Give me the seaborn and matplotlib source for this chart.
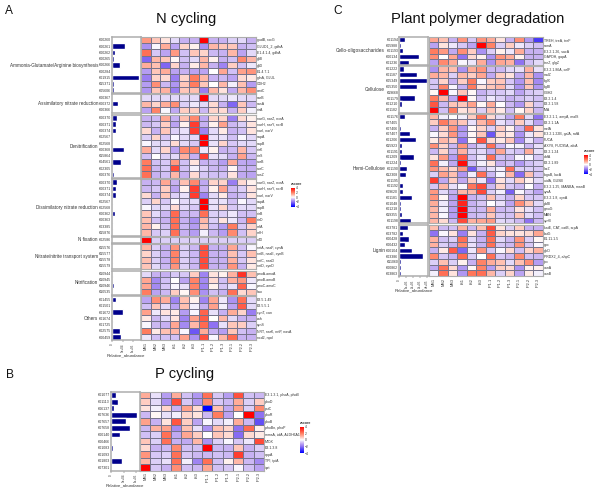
import pandas as pd
import matplotlib
matplotlib.use("Agg")
import matplotlib.pyplot as plt
import seaborn as sns
from matplotlib.cm import ScalarMappable
from matplotlib.colors import LinearSegmentedColormap, Normalize

samples = ["MS1", "MS2", "MS3", "IS1", "IS2", "IS3", "IP1.1", "IP1.2", "IP1.3", "IP2.1", "IP2.2", "IP2.3"]

# panel A
n_groups = ["Ammonia-Glutamate/Arginine biosynthesis", "Assimilatory nitrate reduction", "Denitrification",
            "Dissimilatory nitrate reduction", "N fixation", "Nitrate/nitrite transport system", "Nitrification", "Others"]
n_sizes = [9, 3, 10, 9, 1, 4, 4, 7]
n_kos = ["K00260", "K00261", "K00262", "K00265", "K00266", "K00284", "K01915", "K15371", "K05606",
         "K00367", "K00372", "K00366",
         "K00370", "K00371", "K00374", "K02567", "K02568", "K00368", "K15864", "K04561", "K02305", "K00376",
         "K00370", "K00371", "K00374", "K02567", "K02568", "K00362", "K00363", "K03385", "K15876",
         "K02586",
         "K15576", "K15577", "K15578", "K15579",
         "K10944", "K10945", "K10946", "K10535",
         "K01455", "K01501", "K01672", "K01674", "K01725", "K02575", "K00459"]
n_genes = ["gudB, rocG", "GLUD1_2, gdhA", "E1.4.1.4, gdhA", "gltB", "gltD", "E1.4.7.1", "glnA, GLUL", "GDH2", "amtC",
           "narB", "nasA", "nirA",
           "narG, narZ, nxrA", "narH, narY, nxrB", "narI, narV", "napA", "napB", "nirK", "nirS", "norB", "norC", "nosZ",
           "narG, narZ, nxrA", "narH, narY, nxrB", "narI, narV", "napA", "napB", "nirB", "nirD", "nrfA", "nrfH",
           "nifD",
           "nrtA, nasF, cynA", "nrtB, nasE, cynB", "nrtC, nasD", "nrtD, cynD",
           "pmoA-amoA", "pmoB-amoB", "pmoC-amoC", "hao",
           "E3.5.1.49", "E3.5.5.1", "cynT, can", "cah", "cynS", "NRT, narK, nrtP, nasA", "ncd2, npd"]
n_abund = [2000, 63000, 16000, 8000, 38000, 3000, 129000, 8000, 11000,
           2000, 27000, 6000,
           25000, 21000, 19000, 5000, 2000, 57000, 3000, 40000, 5000, 11000,
           25000, 21000, 19000, 5000, 2000, 13000, 3000, 3000, 2000,
           2000,
           6000, 6000, 5000, 3000,
           3000, 3000, 8000, 5000,
           21000, 3000, 54000, 3000, 3000, 37000, 44000]
n_z = [
    [1.5, 0.8, 0.4, -0.5, -1, -1, 4, -1, -1, -0.6, -0.5, -1],
    [-1.5, -0.1, 1.2, -1.2, 0.6, 0.2, -1.5, 1, 0.8, 0.8, -1, -0.8],
    [2.2, -0.7, -1.2, 1.5, -0.8, 0.8, 0.6, -0.9, -1, 1, -1.2, -0.5],
    [-2.2, 1, 0.8, 0.1, -0.8, -0.5, 1, 0.2, -1, -0.8, 1.8, 1],
    [1.2, 0.9, -2.2, 0.6, -1, 0.3, 1, -1, -1.7, 0.7, -0.8, -0.3],
    [-1.3, 0.8, 1.2, -1.2, -1, -1.2, -1.2, 0, 1.3, -0.8, 1.4, 1.6],
    [-1.8, 0.6, 0.5, -1.8, 0.6, 2, 1, -1, -0.9, -1.2, 0.5, 0.3],
    [-1.3, 1.7, -0.9, -1.4, 0.8, 2, 0.8, 0, 1, -0.2, 0.9, -1.3],
    [-1.4, 0.8, 1.1, -1.8, 0.8, 0.9, -1.8, 1, 0.4, -1.1, 1, 1.7],
    [-0.5, -0.5, -0.5, -0.5, -0.5, -0.5, 4, -0.5, -0.5, -0.3, -0.5, -0.5],
    [1, 0.6, 1.2, 1.7, -0.6, -0.3, -0.5, 0.5, -1, -2.2, 0.8, -0.9],
    [-1.2, 1.9, -0.1, -1.1, 0.7, 0.7, -0.9, 0.6, 0.5, -1, 0.7, -0.2],
    [-1, -0.9, 1.3, -1, 0.9, 1.8, -1.1, 0.6, 0.6, -1.8, 0.5, 0.2],
    [-0.9, -0.7, 0.7, -1.2, 0.2, 3, -1, 0.2, 1.4, -0.9, -0.6, 0.4],
    [0.5, -1, 0.8, -0.6, -0.4, 3, -1.7, -0.5, 0.3, -1, -0.8, 0.4],
    [-0.6, 0.6, -0.7, -0.1, -0.5, -0.5, 4, -0.4, -0.4, -0.8, -0.1, -0.5],
    [-0.1, -0.5, -0.5, 0.5, -0.5, -0.7, 4, -0.4, 0.6, -0.7, -0.5, -0.5],
    [1.2, -0.5, 0.6, -1.2, 1.8, 1.9, -0.3, 0.2, -1, -0.9, 1, -0.7],
    [-0.8, 0, -0.6, -0.5, 1.1, -1, 3, -0.4, -0.5, -1, 1.4, -0.9],
    [2, -0.8, -0.7, 1.5, -0.8, 0.4, -1, -0.9, -1.3, 1.2, -1.1, -1.2],
    [2.2, -0.9, -0.7, 2.8, -0.8, -0.2, -0.6, -0.9, -1, 0.1, -1, -1],
    [2.2, -1, -0.8, 1, -1, 0.5, -0.7, -0.8, -0.8, 0.4, -1.1, -1.2],
    [-1, -0.9, 1.3, -1, 0.9, 1.8, -1.1, 0.6, 0.6, -1.8, 0.5, 0.2],
    [-0.9, -0.7, 0.7, -1.2, 0.2, 3, -1, 0.2, 1.4, -0.9, -0.6, 0.4],
    [0.5, -1, 0.8, -0.6, -0.4, 3, -1.7, -0.5, 0.3, -1, -0.8, 0.4],
    [-0.6, 0.6, -0.7, -0.1, -0.5, -0.5, 4, -0.4, -0.4, -0.8, -0.1, -0.5],
    [-0.1, -0.5, -0.5, 0.5, -0.5, -0.7, 4, -0.4, 0.6, -0.7, -0.5, -0.5],
    [0.8, -0.5, -0.9, 2.3, -0.9, -0.9, 2.2, -0.6, -0.6, -0.3, -0.8, -0.8],
    [0.9, -0.8, -1, 2.2, -1, -1.5, 1, -0.6, 0.4, -0.3, -0.9, 2],
    [1, 0.2, -0.8, 2.2, -0.9, -1.3, 0.8, -0.8, -1.3, 2, -0.7, 0.6],
    [1, -0.7, -0.6, 2.2, -1, -1.3, -0.2, -0.9, -1.3, 1.8, -0.8, 0.6],
    [4, -0.6, -0.6, -0.6, -0.6, -0.6, -0.6, -0.6, -0.6, -0.6, -0.6, -0.6],
    [1, -0.6, -1, 1.6, -0.6, -0.9, 2.7, -1, -1, 1.3, -0.8, -0.1],
    [0.6, -0.6, -1, 1.9, -0.6, -0.9, 2.7, -1, -1, 0.9, -0.7, 0.9],
    [0.9, -0.6, -1, 1.9, -0.6, -0.9, 2.8, -1, -1, 1.1, -0.7, 0.4],
    [0.8, -0.5, -0.9, 1.6, -0.6, -0.9, 2.8, -1, -1, 1.6, -1, 0.3],
    [-0.5, -1, -1, -0.7, -0.7, 0.7, -1.7, 0.4, 0.2, 1.1, 3.2, 0.9],
    [1.3, -1.6, -0.8, 0, -1.2, 1.9, -1.6, 0.5, -0.8, 1.1, 1.5, -0.3],
    [1.3, -1.6, -0.7, -0.1, -0.4, 1.9, -1.7, 0.2, -0.7, -0.4, 2.4, -0.1],
    [2, -1.2, -0.9, 0.7, 0.1, 1.7, -1.5, -0.8, -1, 2.2, 0.5, 0.8],
    [-1.2, 1.7, 1.2, -1.7, 0.9, 0.2, -1.7, 1.3, -0.3, -1.5, 2.2, -0.5],
    [-0.8, 0.8, -0.5, -1.2, 0.9, -0.2, -1, 1.4, -0.2, -1.2, 2.5, -0.5],
    [1.4, -0.3, 0.4, 0.3, -1.3, -0.1, 2.4, -0.4, -1, 1.2, 0.6, -1.8],
    [0.3, -0.9, -0.5, 0.4, -1.7, 1.4, 2.5, 0, 1, -0.5, -1, -1],
    [-0.1, -0.9, -1, 1.3, -1.6, 1, 2.3, -2, -0.4, 0.8, 0.7, -0.6],
    [2, 0.3, 0.9, 1, -0.1, -2.5, 1.2, -1, -1.3, 0.8, -0.8, -1],
    [-0.3, -0.8, -0.8, -0.8, 1.4, -1.5, 2.7, -0.1, 1, 2.3, -1, -1],
]

# panel B
p_kos = ["K01077", "K01113", "K06137", "K07636", "K07657", "K07658", "K00140", "K00466", "K01083", "K01093", "K01803", "K07301"]
p_genes = ["E3.1.3.1, phoA, phoB", "phoD", "pstC", "phoR", "phoB", "phoBn, phoP", "mmsA, iolA, ALDH6A1", "MIOX",
           "E3.1.3.8", "appA", "TPI, tpiA", "ipct"]
p_abund = [20000, 26000, 13000, 105000, 60000, 74000, 37000, 5000, 7000, 1000, 44000, 2000]
p_z = [
    [1.2, -0.4, -1.3, 1.2, -0.8, -1.4, 2.2, -0.7, -1.3, 2.7, -0.8, -0.9],
    [0.7, -0.5, -1.5, 2.8, -0.7, -1.4, 1.8, -0.7, -0.9, 1.2, -0.6, 0.7],
    [0.4, -0.2, 0.6, -1, 1.4, 0.5, -4, 0.9, -1.1, 1.4, -0.6, 1.8],
    [-0.9, 0.1, -0.4, -0.2, 0.6, 0.4, -0.9, 2, -1.2, 0, 4, -2],
    [1.4, -1, 0.4, 2.6, 0.7, -1.2, -0.1, -0.5, -0.2, 1.2, -0.9, -2.6],
    [-0.9, 1.1, 1.4, -1.6, 0.9, -0.4, -1.5, 0.9, 0.6, -2, 2.3, 0.2],
    [-0.8, -0.6, 2.2, -1.1, 1.3, 0.7, 0, 0.8, 0.5, -2.1, 0.5, 0.3],
    [0.8, -0.6, 2.2, -1, -1.1, 1, -1.5, -0.6, -0.1, -0.7, -0.3, 2.8],
    [0.5, -1, -0.9, 1.8, -0.8, -0.8, 4, -0.9, -1, 0.8, -1, -0.6],
    [1.6, -0.7, -0.6, 2.2, -0.7, -0.9, -0.9, -0.8, -0.9, 3, -1, -0.8],
    [1, -0.6, -0.4, 2.2, -0.2, -1.7, 2.2, -0.8, 0.2, 1, -0.9, -1.6],
    [4, -0.7, -1, 1.7, -0.8, -0.9, 1.3, -0.8, -0.7, -0.1, -0.8, -1.2],
]

# panel C
c_groups = ["Cello-oligosaccharides", "Cellulose", "Hemi-Cellulose", "Lignin"]
c_sizes = [5, 8, 19, 9]
c_kos = ["K01194", "K05988", "K01193", "K00134", "K01236",
         "K01222", "K01187", "K05349", "K05350", "K19668", "K01179", "K01210", "K01182",
         "K01176", "K07405", "K07406", "K07407", "K01206", "K15923", "K01191", "K01209", "K01224", "K01190",
         "K12308", "K01195", "K01192", "K09620", "K01181", "K01048", "K01218", "K19355", "K01198",
         "K03781", "K03782", "K00428", "K00432", "K00104", "K03386", "K11060", "K00862", "K03863"]
c_genes = ["TREH, treA, treF", "ramA", "E3.2.1.26, sacA", "GAPDH, gapA", "treZ, glgZ",
           "E3.2.1.86A, celF", "malZ", "bglX", "bglB", "CBH2", "E3.2.1.4", "E3.2.1.58", "IMA",
           "E3.2.1.1, amyA, malS", "E3.2.1.1A", "melA", "E3.2.1.22B, galA, rafA", "FUCA", "AXY8, FUC95A, afcA", "E3.2.1.24",
           "abfA", "E3.2.1.89", "lacZ", "bgaB, lacA", "uidA, GUSB", "E3.2.1.25, MANBA, manB", "xysA", "E3.2.1.8, xynA",
           "pldB", "gmuG", "MAN", "xynB",
           "katE, CAT, catB, srpA", "katG", "E1.11.1.5", "gpx", "glcD", "PRDX2_4, ahpC", "tpx", "vanA", "vanB"]
c_abund = [85000, 25000, 50000, 285000, 145000,
           60000, 255000, 395000, 260000, 15000, 225000, 35000, 10000,
           75000, 15000, 30000, 155000, 245000, 35000, 40000, 210000, 22000, 110000,
           100000, 10000, 55000, 50000, 175000, 25000, 30000, 35000, 165000,
           130000, 55000, 145000, 75000, 185000, 335000, 30000, 20000, 25000]
c_z = [
    [1.3, 0.9, -1, 1.6, -0.7, 1.6, 1.2, 0.4, -1, 1.7, -1.4, -3],
    [-1.2, 0.4, -0.3, -0.7, -1.2, 4, 1.9, -0.6, 0.7, -0.3, -0.6, -0.8],
    [2, 1.5, -1.1, 1.7, 0.7, -1.5, -0.6, 0.2, -0.3, 1.2, -1, -1],
    [1.7, 0, 1.3, -2, 0.5, 0.2, -1.5, 1.6, 1.2, 0.2, -1, -1],
    [-1.2, 1.8, 1.2, -0.1, -0.3, 1.2, -1.5, 1.3, 1.1, -2, -0.8, -0.5],
    [-1.5, 1, 0.9, -1.5, 1.2, 1.6, -0.9, -0.9, -0.5, -0.4, 1.1, -0.4],
    [1.2, 1, -0.6, 1, 0.7, 1.3, -1.1, 0.7, 0.4, -1.1, 1, -1.5],
    [-0.7, 0.6, -1, 0.7, 2, -0.1, 0.7, 0.8, -0.7, -1.4, 0.9, -1.6],
    [-0.7, 1.9, -0.1, -1, 2, 0.4, 0.8, 1, -0.5, -1.5, 0.8, -1.4],
    [0.1, 4, -0.1, 0.8, 0.1, -1, -0.7, -0.7, -0.5, -1.2, -0.7, -0.6],
    [2, 1, -1.2, 4, 0.1, -0.8, -0.3, -0.6, -1, -0.8, -0.6, -0.8],
    [2.6, -0.9, 0.8, 0.8, 1.4, 0.1, 1.2, 0, -0.9, -1.4, 0.6, -0.7],
    [4, -0.8, 2, 0.4, 0.6, -0.6, 0.8, 0.3, -0.8, 0.1, 0.6, -0.9],
    [1, -0.2, 0, -0.2, 0.7, 2.2, 0.5, -0.5, -1.2, 2, -0.5, -2],
    [0.7, 2, 1.2, 0.8, -0.4, 1, 1.8, -0.4, -0.7, 0.7, -0.5, -1.2],
    [-1, 0.7, 1.6, -1.4, 0.1, 0.6, -0.6, 0.7, 0.2, -1, 2.3, 0.4],
    [-0.1, 0.5, 1.6, -1.3, 0.1, 0.8, -2.5, 0.5, 0.3, -1.5, -0.3, 0.4],
    [0.3, 1, 0.7, -2, 0.1, 2.6, 0.5, 0.3, 0.8, -1.6, -0.3, -1],
    [1.7, 0.6, -0.9, 1.6, -1, -0.6, 2.2, -0.9, -0.1, -0.2, -0.9, -0.4],
    [-0.9, 0.6, -0.9, 1.1, -0.6, -0.5, -1, 1.3, -0.6, -0.8, 1.2, -0.4],
    [0.4, 1.5, -1.3, 2.6, -0.8, -0.3, 2.2, -0.8, -0.9, -0.1, -0.1, -0.7],
    [2.2, -0.2, -1.1, 3.8, -0.8, -0.2, 0.4, -1, -0.8, -1.4, -0.8, -0.6],
    [1.6, 0.9, 0.6, 1.5, -2.4, -0.8, -0.4, -0.2, 2.2, -0.6, -0.6, -0.7],
    [-0.6, 1.4, 0.9, -1.4, -0.2, 2.2, -0.9, -0.1, 1, -2.1, 0.9, -0.7],
    [3, -1.1, 0.7, -1.1, 0.7, -0.3, -2, 0.4, -0.5, 0.7, 0.2, -0.5],
    [-0.7, 1, -0.4, -0.1, 2.1, 2.8, -0.9, 0.6, -0.7, -0.9, 0, -1],
    [1.5, -0.5, -1, 1, 1, 2.8, -0.6, -0.2, -2.3, -0.1, -0.7, -1.2],
    [1.6, 0.1, -1.2, 4, -1, -0.8, 0.9, -0.6, -1, 0.6, -0.7, -0.7],
    [1.2, -0.3, -1.2, 3.4, -1, -0.7, 0, -0.4, -1.2, 1.7, 0.8, -0.5],
    [1, -0.2, -1.3, 4, -0.9, -0.9, 1.2, -0.9, -0.8, 0.4, -0.4, -0.8],
    [1, -0.1, -1.3, 4, -0.9, -0.8, 0.8, -0.7, -0.8, 0.8, -0.5, -0.8],
    [1, 0.5, -0.9, 2.8, 1.1, 1.3, 1.5, -0.5, -0.6, -0.9, -2, -0.9],
    [0.9, -0.9, -0.8, 1.1, -0.9, 0.9, 2.8, 0.4, -0.6, 0.7, -1, -1],
    [-2, -0.1, 0.4, -1.8, 0.4, -1, 2.5, 0.6, 0.4, 0.4, 0.5, 1.3],
    [1.1, -0.8, -0.6, 2.2, -0.5, -1, 2.2, -0.5, -0.9, 1.6, -0.6, 0.1],
    [1.1, -0.6, -1, 1.8, -0.4, -1, 2.2, -0.7, -0.9, 1.6, -0.7, -0.1],
    [-1, 0.3, 2.5, -2.2, -0.3, 1.6, -0.7, -0.1, 0.5, -0.8, 0.6, 1.1],
    [1.8, -0.7, -1, 2.3, -0.6, 0, 2.2, -0.7, -0.9, 1.8, -0.8, -0.9],
    [-0.6, 0.9, -0.6, 0.2, -1, 1.9, 1.2, 0.9, -0.5, 0.9, 1.7, -1.3],
    [-1.1, 2.2, 0.5, -1.4, 0.1, 1.9, -1.3, 0.7, 0.5, -1.5, 0.2, 0.2],
    [-0.2, 2.2, 0.4, -1.4, 2.1, 2.2, 1, -0.6, 0.6, -1.2, 0.3, -0.2],
]

W, H = 600, 490
sns.set_theme(style="white")
plt.rcParams["font.family"] = ["Liberation Sans", "DejaVu Sans"]
fig = plt.figure(figsize=(W / 100, H / 100), dpi=100)

cmap = LinearSegmentedColormap.from_list("zs", [(0, "#0000ff"), (0.25, "#8f72f2"), (0.375, "#c6b0f2"), (0.5, "#ffffff"),
                                                (0.625, "#ffb8a8"), (0.75, "#ff7d60"), (1, "#ff0000")])
frame_col = "#adadad"
text_col = "#333333"


# axes from pixel box, y measured from the top
def px_axes(x0, y0, x1, y1):
    return fig.add_axes([x0 / W, 1 - y1 / H, (x1 - x0) / W, (y1 - y0) / H])


def draw_block(kos, genes, abund, z, bar_box, heat_box, xmax, ticks, ticklabels, last, tick_fs=2.5):
    x0, x1 = bar_box
    hx0, hx1 = heat_box[0], heat_box[1]
    y0, y1 = heat_box[2], heat_box[3]
    # bars on the left
    ax = px_axes(x0, y0, x1, y1)
    sns.barplot(x=abund, y=list(range(len(kos))), orient="h", color="#00008b", saturation=1, width=0.9, ax=ax)
    ax.set_xlim(0, xmax)
    ax.set_yticks(range(len(kos)))
    ax.set_yticklabels(kos, fontsize=tick_fs, color=text_col)
    ax.tick_params(axis="y", length=0, pad=0.8)
    ax.set_ylabel("")
    for s in ax.spines.values():
        s.set_color(frame_col)
        s.set_linewidth(1.1)
    if last:
        ax.set_xticks(ticks)
        ax.set_xticklabels(ticklabels, rotation=90, fontsize=2.2, color=text_col)
        ax.tick_params(axis="x", length=1.5, width=0.3, pad=0.8, bottom=True, color=text_col)
        ax.set_xlabel("Relative_abundance", fontsize=3.1, color=text_col, labelpad=0.8)
    else:
        ax.set_xticks([])
    # heat cells on the right
    hx = px_axes(hx0, y0, hx1, y1)
    df = pd.DataFrame(z, index=genes, columns=samples)
    sns.heatmap(df, ax=hx, vmin=-4, vmax=4, cmap=cmap, cbar=False, linewidths=0.4, linecolor="#77748c",
                xticklabels=last, yticklabels=True)
    hx.yaxis.tick_right()
    hx.set_yticks([i + 0.5 for i in range(len(genes))])
    hx.set_yticklabels(genes, rotation=0, fontsize=tick_fs, color=text_col)
    hx.tick_params(axis="y", length=0, pad=0.8)
    if last:
        hx.set_xticklabels(samples, rotation=90, fontsize=2.8, color=text_col)
        hx.tick_params(axis="x", length=0, pad=1.2)
    else:
        hx.set_xticks([])
    for s in hx.spines.values():
        s.set_visible(True)
        s.set_color(frame_col)
        s.set_linewidth(0.8)


def add_zscale(x0, y0, x1, y1):
    cax = px_axes(x0, y0, x1, y1)
    cb = fig.colorbar(ScalarMappable(Normalize(-4, 4), cmap), cax=cax, ticks=[-4, -2, 0, 2, 4])
    cb.outline.set_visible(False)
    cb.ax.tick_params(labelsize=2.4, length=0, pad=0.8, labelcolor=text_col)
    fig.text(x0 / W, 1 - (y0 - 1.5) / H, "zscore", fontsize=2.6, fontweight="bold", color=text_col, va="bottom")


# group tops and bottoms in pixels
a_spans = [(36.7, 93.3), (94.5, 112.7), (114.7, 177.7), (179, 235.7), (236.7, 243), (244.3, 269), (270.7, 294.7), (296.3, 340.3)]
c_spans = [(36.7, 65), (66, 112.7), (113.7, 223.3), (224.7, 276)]

start = 0
for i, size in enumerate(n_sizes):
    end = start + size
    top, bot = a_spans[i]
    draw_block(n_kos[start:end], n_genes[start:end], n_abund[start:end], n_z[start:end], (112, 140.5), (141, 256, top, bot),
               134000, [0, 50000, 100000], ["0", "5e+04", "1e+05"], i == len(n_sizes) - 1)
    fig.text(98 / W, 1 - (top + bot) / 2 / H, n_groups[i], fontsize=3.3, color=text_col, ha="right", va="center")
    start = end

start = 0
for i, size in enumerate(c_sizes):
    end = start + size
    top, bot = c_spans[i]
    draw_block(c_kos[start:end], c_genes[start:end], c_abund[start:end], c_z[start:end], (399.3, 428), (429, 542.7, top, bot),
               410000, [0, 100000, 200000, 300000, 400000], ["0", "1e+05", "2e+05", "3e+05", "4e+05"], i == len(c_sizes) - 1)
    fig.text(385 / W, 1 - (top + bot) / 2 / H, c_groups[i], fontsize=3.4, color=text_col, ha="right", va="center")
    start = end

draw_block(p_kos, p_genes, p_abund, p_z, (111, 139.5), (140, 264, 391.7, 470.7), 113000,
           [0, 50000, 100000], ["0", "5e+04", "1e+05"], True)

add_zscale(290.7, 187.7, 295, 206.7)
add_zscale(584, 155, 588, 174)
add_zscale(300, 426.7, 304, 453)

fig.text(186 / W, 1 - 19 / H, "N cycling", fontsize=10.6, ha="center", va="center", color="#111111")
fig.text(185 / W, 1 - 374 / H, "P cycling", fontsize=10.6, ha="center", va="center", color="#111111")
fig.text(477.5 / W, 1 - 19 / H, "Plant polymer degradation", fontsize=10.6, ha="center", va="center", color="#111111")
fig.text(5 / W, 1 - 11 / H, "A", fontsize=8.6, va="center", color="#111111")
fig.text(6 / W, 1 - 375 / H, "B", fontsize=8.6, va="center", color="#111111")
fig.text(333 / W, 1 - 11 / H, "C", fontsize=8.6, va="center", color="#111111")

fig.savefig("out.png", dpi=100)
